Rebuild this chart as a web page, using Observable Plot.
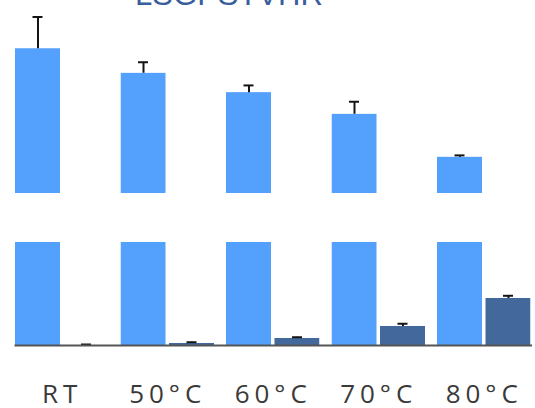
<!DOCTYPE html>
<html>
<head>
<meta charset="utf-8">
<script src="https://cdn.jsdelivr.net/npm/d3@7"></script>
<script src="https://cdn.jsdelivr.net/npm/@observablehq/plot@0.6"></script>
<style>
  html, body { margin: 0; padding: 0; background: #fff; overflow: hidden; }
  #wrap { position: relative; width: 535px; height: 408px; overflow: hidden; }
  #wrap svg { max-width: none !important; height: auto; }
  #title { position: absolute; left: 0; width: 458px; top: -21px; text-align: center;
           font-family: "Liberation Sans", Arial, sans-serif; font-size: 31px; line-height: 31px;
           color: #3a5d9e; white-space: nowrap; }
  #top { position: absolute; left: 0; top: 0; width: 540px; }
  #bottom { position: absolute; left: 0; top: 242px; width: 540px; }
</style>
</head>
<body>
<div id="wrap">
  <div id="title">LSGPSTVHR</div>
  <div id="top"></div>
  <div id="bottom"></div>
</div>
<script>
const groups = ["RT", "50°C", "60°C", "70°C", "80°C"];
const seriesNames = ["intact", "modified"];
const intactValues = [90.0, 84.9, 80.9, 76.4, 67.5];
const intactErrors = [6.6, 2.3, 1.5, 2.6, 0.4];
const modifiedValues = [0, 0.39, 1.36, 3.69, 9.13];
const modifiedErrors = [0.2, 0.25, 0.25, 0.52, 0.52];
const topDomain = [60, 100];
const bottomDomain = [0, 20];

const rows = [];
groups.forEach((g, i) => {
  rows.push({group: g, series: seriesNames[0], value: intactValues[i], err: intactErrors[i]});
  rows.push({group: g, series: seriesNames[1], value: modifiedValues[i], err: modifiedErrors[i]});
});
const intactRows = rows.filter(d => d.series === seriesNames[0]);
const modifiedRows = rows.filter(d => d.series === seriesNames[1]);

const colors = {range: ["#54a0fd", "#43689b"], domain: seriesNames};
const fxOpts = {domain: groups, paddingInner: 12 / 105.5, paddingOuter: 6 / 105.5, round: false, label: null};
const xOpts = {domain: seriesNames, paddingInner: 3.5 / 48.5, paddingOuter: 0, round: false, axis: null};

const errMarks = (data) => [
  Plot.ruleX(data, {fx: "group", x: "series", y1: "value", y2: d => d.value + d.err,
    stroke: "#151515", strokeWidth: 2, clip: true}),
  Plot.tickY(data, {fx: "group", x: "series", y: d => d.value + d.err,
    stroke: "#151515", strokeWidth: 2, insetLeft: 17.5, insetRight: 17.5, clip: true})
];

const W = 537;

const topPlot = Plot.plot({
  width: W, height: 193,
  marginLeft: 9, marginRight: 0.5, marginTop: 0, marginBottom: 0,
  fx: {...fxOpts, axis: null},
  x: xOpts,
  y: {domain: topDomain, axis: null},
  color: colors,
  marks: [
    Plot.barY(intactRows, {fx: "group", x: "series", y: "value", fill: "series", clip: true}),
    ...errMarks(intactRows)
  ]
});
document.getElementById("top").append(topPlot);

const bottomPlot = Plot.plot({
  width: W, height: 166,
  marginLeft: 9, marginRight: 0.5, marginTop: 0, marginBottom: 63,
  style: "font-family: 'Open Sans', sans-serif; font-size: 26px; letter-spacing: 5px; color: #3a3a3a; background: transparent; max-width: none;",
  fx: {...fxOpts, axis: "bottom", tickSize: 0, tickPadding: 39},
  x: xOpts,
  y: {domain: bottomDomain, axis: null},
  color: colors,
  marks: [
    Plot.barY(rows, {fx: "group", x: "series", y: "value", fill: "series", clip: true}),
    ...errMarks(modifiedRows),
    Plot.frame({anchor: "bottom", facet: "super", stroke: "#555", strokeWidth: 2})
  ]
});
document.getElementById("bottom").append(bottomPlot);
</script>
</body>
</html>
